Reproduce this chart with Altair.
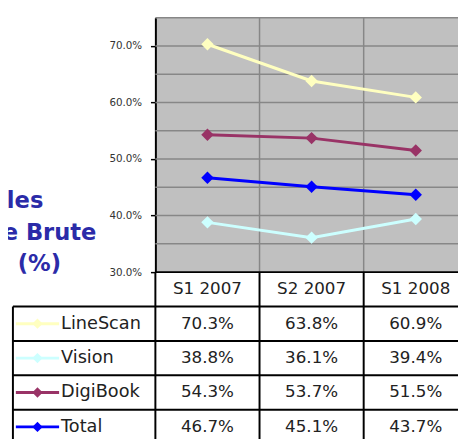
import altair as alt
import pandas as pd

# ---------------- data ----------------
periods = ["S1 2007", "S2 2007", "S1 2008"]
series = ["LineScan", "Vision", "DigiBook", "Total"]
linescan = [70.3, 63.8, 60.9]
vision = [38.8, 36.1, 39.4]
digibook = [54.3, 53.7, 51.5]
total = [46.7, 45.1, 43.7]
series_colors = ["#FFFFC0", "#CCFFFF", "#993366", "#0000FF"]
y_ticks = [30, 40, 50, 60, 70]
y_tick_labels = ["30.0%", "40.0%", "50.0%", "60.0%", "70.0%"]
y_grid = [35, 40, 45, 50, 55, 60, 65, 70, 75]
title_lines = ["les", "e Brute", "(%)"]

values = {"LineScan": linescan, "Vision": vision, "DigiBook": digibook, "Total": total}

# ---------------- layout (pixels) ----------------
PLOT_W, PLOT_H = 308, 259
COL_W, ROW_H = 106, 35
PAD_LEFT, PAD_TOP = 150, 6
CHART_W, CHART_H = 458, 431
LEG_LEFT = -145
LEG_LINE_A, LEG_LINE_B, LEG_DIAM, LEG_LABEL = -142, -98, -120, -96
FONT = "DejaVu Sans"

u = lambda px: px / COL_W  # pixel offset -> column units

x_scale = alt.Scale(domain=[0, PLOT_W / COL_W], nice=False, zero=False)
y_scale = alt.Scale(domain=[30, 75], nice=False, zero=False)
t_scale = alt.Scale(domain=[0, 5], range=[PLOT_H, PLOT_H + 5 * ROW_H], nice=False, zero=False)
c_scale = alt.Scale(domain=series, range=series_colors)

label_expr = "".join(f"datum.value == {v} ? '{l}' : " for v, l in zip(y_ticks, y_tick_labels)) + "''"

# ---------------- plot area ----------------
grid_h = alt.Chart(pd.DataFrame({"g": y_grid})).mark_rule(color="#878787", strokeWidth=1.5).encode(
    y=alt.Y("g:Q", scale=y_scale, axis=alt.Axis(
        values=y_ticks, labelExpr=label_expr, title=None, grid=False,
        domainColor="black", domainWidth=2, tickColor="black", tickSize=5, tickWidth=1.5,
        labelFont=FONT, labelFontSize=10.5, labelColor="#333333", labelPadding=9)))

grid_v = alt.Chart(pd.DataFrame({"c": [1, 2, 3]})).mark_rule(color="#878787", strokeWidth=1.5).encode(
    x=alt.X("c:Q", scale=x_scale, axis=None))

rows = []
for s in series:
    for i, p in enumerate(periods):
        rows.append({"s": s, "p": p, "x": i + 0.5, "v": values[s][i]})
df = pd.DataFrame(rows)

lines = alt.Chart(df).mark_line(strokeWidth=3).encode(
    x=alt.X("x:Q", scale=x_scale, axis=None),
    y=alt.Y("v:Q", scale=y_scale, axis=None),
    color=alt.Color("s:N", scale=c_scale, legend=None))

points = alt.Chart(df).mark_point(shape="diamond", filled=True, size=160, opacity=1).encode(
    x=alt.X("x:Q", scale=x_scale, axis=None),
    y=alt.Y("v:Q", scale=y_scale, axis=None),
    color=alt.Color("s:N", scale=c_scale, legend=None))

# ---------------- data table ----------------
h_borders = pd.DataFrame({
    "r": [0, 1, 2, 3, 4, 5],
    "x1": [0] + [u(LEG_LEFT)] * 5,
    "x2": [3] * 6,
})
v_borders = pd.DataFrame({
    "x": [u(LEG_LEFT), 0, 1, 2, 3],
    "r1": [1, 0, 0, 0, 0],
    "r2": [5, 5, 5, 5, 5],
})

hb = alt.Chart(h_borders).mark_rule(color="black", strokeWidth=2).encode(
    x=alt.X("x1:Q", scale=x_scale, axis=None), x2="x2:Q",
    y=alt.Y("r:Q", scale=t_scale, axis=None))
vb = alt.Chart(v_borders).mark_rule(color="black", strokeWidth=2).encode(
    x=alt.X("x:Q", scale=x_scale, axis=None),
    y=alt.Y("r1:Q", scale=t_scale, axis=None), y2="r2:Q")

header = alt.Chart(pd.DataFrame({"p": periods, "x": [i + 0.5 for i in range(len(periods))], "r": [0.5] * len(periods)})
                   ).mark_text(font=FONT, fontSize=17, color="#222222").encode(
    x=alt.X("x:Q", scale=x_scale, axis=None), y=alt.Y("r:Q", scale=t_scale, axis=None), text="p:N")

cell_rows = []
for j, s in enumerate(series):
    for i, p in enumerate(periods):
        cell_rows.append({"x": i + 0.5, "r": j + 1.5, "t": f"{values[s][i]:.1f}%"})
cells = alt.Chart(pd.DataFrame(cell_rows)).mark_text(font=FONT, fontSize=17, color="#222222").encode(
    x=alt.X("x:Q", scale=x_scale, axis=None), y=alt.Y("r:Q", scale=t_scale, axis=None), text="t:N")

leg_df = pd.DataFrame({
    "s": series,
    "r": [j + 1.5 for j in range(len(series))],
    "xa": [u(LEG_LINE_A)] * len(series),
    "xb": [u(LEG_LINE_B)] * len(series),
    "xd": [u(LEG_DIAM)] * len(series),
    "xl": [u(LEG_LABEL)] * len(series),
})
leg_lines = alt.Chart(leg_df).mark_rule(strokeWidth=3).encode(
    x=alt.X("xa:Q", scale=x_scale, axis=None), x2="xb:Q",
    y=alt.Y("r:Q", scale=t_scale, axis=None),
    color=alt.Color("s:N", scale=c_scale, legend=None))
leg_diam = alt.Chart(leg_df).mark_point(shape="diamond", filled=True, size=110, opacity=1).encode(
    x=alt.X("xd:Q", scale=x_scale, axis=None),
    y=alt.Y("r:Q", scale=t_scale, axis=None),
    color=alt.Color("s:N", scale=c_scale, legend=None))
leg_text = alt.Chart(leg_df).mark_text(font=FONT, fontSize=18, color="#222222", align="left").encode(
    x=alt.X("xl:Q", scale=x_scale, axis=None),
    y=alt.Y("r:Q", scale=t_scale, axis=None), text="s:N")

# ---------------- cropped title ----------------
title_pos = [(-114, 187), (-60, 219), (-96, 251)]
titles = [
    alt.Chart(pd.DataFrame({"t": [t]})).mark_text(
        font=FONT, fontSize=23, fontWeight="bold", color="#2B2BA8", align="right", baseline="middle"
    ).encode(text="t:N", x=alt.value(px), y=alt.value(py))
    for t, (px, py) in zip(title_lines, title_pos)
]

chart = alt.layer(
    grid_h, grid_v, lines, points,
    hb, vb, header, cells, leg_lines, leg_diam, leg_text,
    *titles
).resolve_scale(y="independent").properties(
    width=PLOT_W, height=PLOT_H,
    padding={"left": PAD_LEFT, "top": PAD_TOP, "right": CHART_W - PAD_LEFT - PLOT_W,
             "bottom": CHART_H - PAD_TOP - PLOT_H},
    autosize=alt.AutoSizeParams(type="none"),
    background="white",
).configure_view(fill="#C0C0C0", strokeWidth=0)

chart.save("out.html", embed_options={"renderer": "svg", "actions": False})
